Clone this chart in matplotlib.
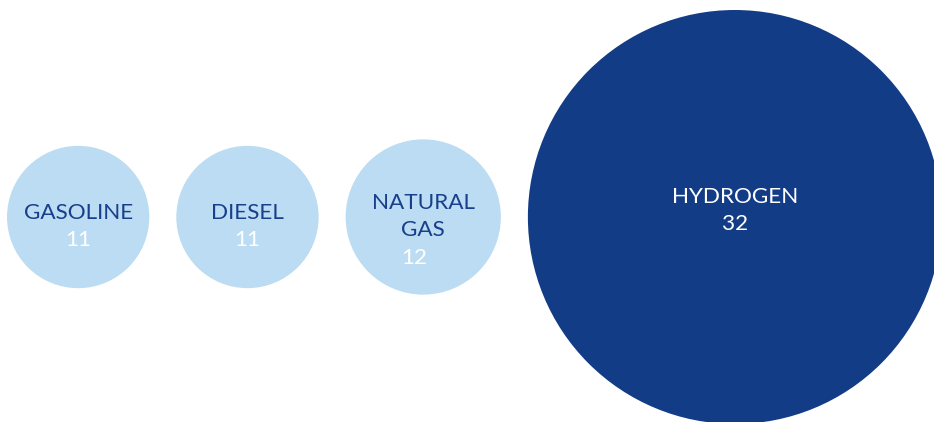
import matplotlib
matplotlib.use("Agg")
import matplotlib.pyplot as plt
from matplotlib.patches import Circle

categories = ["GASOLINE", "DIESEL", "NATURAL\nGAS", "HYDROGEN"]
values = [11, 11, 12, 32]
value_labels = ["11", "11", "12", "32"]

# styling / layout
fill_colors = ["#BBDCF2", "#BBDCF2", "#BBDCF2", "#133C87"]
label_colors = ["#173F8B", "#173F8B", "#173F8B", "white"]
value_colors = ["white", "white", "white", "white"]
first_baseline_shift = [2, 2, -8, -14]   # px relative to circle centre
value_dx = [0, 0, -9, 0]

W, H = 934, 422
fig = plt.figure(figsize=(W / 100, H / 100), dpi=100)
ax = fig.add_axes([0, 0, 1, 1])
ax.set_xlim(0, W)
ax.set_ylim(H, 0)
ax.set_aspect("equal")
ax.axis("off")

scale = 207 / 32.0  # px of radius per unit
gap = 27
x = 7
cy = 217
font = ["Lato", "DejaVu Sans"]
fs = 16.2
line = 27.5
for i, (cat, v) in enumerate(zip(categories, values)):
    r = v * scale
    cx = x + r
    ax.add_patch(Circle((cx, cy), r, facecolor=fill_colors[i], edgecolor="none"))
    lines = cat.split("\n")
    y0 = cy + first_baseline_shift[i]
    for j, t in enumerate(lines):
        ax.text(cx, y0 + j * line, t, ha="center", va="baseline", fontsize=fs,
                color=label_colors[i], family=font)
    ax.text(cx + value_dx[i], y0 + len(lines) * line, value_labels[i], ha="center",
            va="baseline", fontsize=fs, color=value_colors[i], family=font)
    x = cx + r + gap

fig.savefig("out.png", dpi=100)
